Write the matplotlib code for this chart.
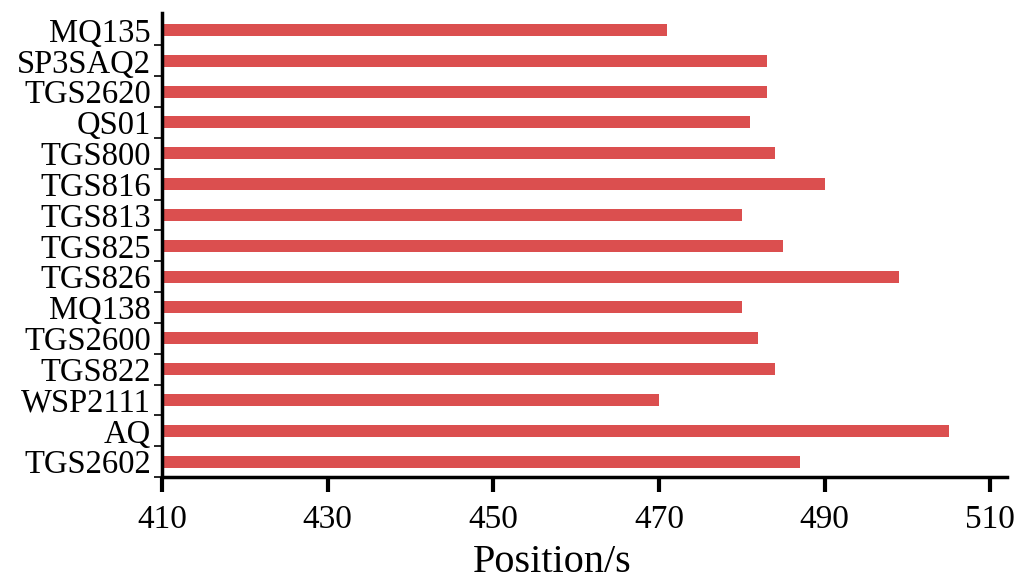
import numpy as np
import matplotlib
matplotlib.use("Agg")
import matplotlib.pyplot as plt

# sensors listed top to bottom as in the chart
sensors = ["MQ135", "SP3SAQ2", "TGS2620", "QS01", "TGS800", "TGS816", "TGS813",
           "TGS825", "TGS826", "MQ138", "TGS2600", "TGS822", "WSP2111", "AQ", "TGS2602"]
positions = [471, 483, 483, 481, 484, 490, 480, 485, 499, 480, 482, 484, 470, 505, 487]

plt.rcParams['font.family'] = ['Liberation Serif', 'DejaVu Serif']

fig = plt.figure(figsize=(10.24, 5.84), dpi=100)
ax = fig.add_axes([162/1024, 107/584, (1007-162)/1024, (571-107)/584])

y = np.arange(len(sensors))[::-1]
ax.barh(y, np.array(positions) - 410, left=410, height=0.39, color='#db4f4f')

ax.set_xlim(410, 512)
ax.set_ylim(-0.5, 14.55)
ax.set_xticks([410, 430, 450, 470, 490, 510])
ax.set_yticks(y)
ax.set_yticklabels(sensors)
ax.set_yticks(np.arange(-0.5, 14, 1), minor=True)

for s in ['top', 'right']:
    ax.spines[s].set_visible(False)
ax.spines['left'].set_linewidth(2.5)
ax.spines['bottom'].set_linewidth(2.5)

ax.tick_params(axis='x', direction='out', length=11, width=3, labelsize=24, pad=9)
ax.tick_params(axis='y', which='major', length=0, labelsize=23.5, pad=8)
ax.tick_params(axis='y', which='minor', direction='out', length=6, width=1.2)

ax.set_xlabel("Position/s", fontsize=29, labelpad=6)
ax.xaxis.set_label_coords(0.462, -0.145)

fig.savefig("out.png", dpi=100)
